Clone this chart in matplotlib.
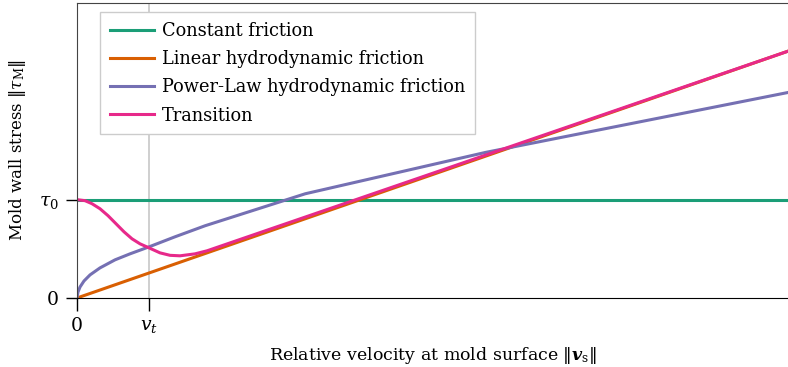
import matplotlib
matplotlib.use("Agg")
import matplotlib.pyplot as plt

plt.rcParams['font.family'] = ['DejaVu Serif']
plt.rcParams['mathtext.fontset'] = 'dejavuserif'

# velocity axis in units of v_t, stress in units of tau_0
v_max = 9.875
s_max = 3.0

constant_v = [0, 9.875]
constant_s = [1.0, 1.0]

linear_v = [0, 9.875]
linear_s = [0, 2.51]

power_v = [0, 0.014, 0.042, 0.097, 0.181, 0.319, 0.528, 0.736, 1.0, 1.36, 1.78, 3.17, 5.67, 9.875]
power_s = [0, 0.061, 0.112, 0.173, 0.235, 0.306, 0.388, 0.449, 0.52, 0.622, 0.735, 1.06, 1.48, 2.09]

transition_v = [0, 0.111, 0.208, 0.319, 0.431, 0.542, 0.653, 0.764, 0.875, 1.0, 1.153, 1.292,
                1.431, 1.639, 1.806, 9.875]
transition_s = [1.0, 0.99, 0.959, 0.908, 0.837, 0.755, 0.673, 0.602, 0.551, 0.51, 0.459, 0.434,
                0.429, 0.449, 0.48, 2.51]

x_ticks = [0, 1.0]
x_labels = ['0', r'$v_t$']
y_ticks = [0, 1.0]
y_labels = ['0', r'$\tau_0$']

colors = {"constant": "#1b9e77", "linear": "#d95f02", "power": "#7570b3", "transition": "#e7298a"}

fig = plt.figure(figsize=(7.88, 3.67), dpi=100)
ax = fig.add_axes([77 / 788, 69 / 367, 711 / 788, 295 / 367])

# marker for the transition velocity
ax.axvline(1.0, color="#cccccc", lw=1.3, zorder=1)

ax.plot(constant_v, constant_s, color=colors["constant"], lw=2.2, label="Constant friction")
ax.plot(linear_v, linear_s, color=colors["linear"], lw=2.2, label="Linear hydrodynamic friction")
ax.plot(power_v, power_s, color=colors["power"], lw=2.2, label="Power-Law hydrodynamic friction")
ax.plot(transition_v, transition_s, color=colors["transition"], lw=2.2, label="Transition")

ax.set_xlim(0, v_max)
ax.set_ylim(0, s_max)

ax.set_xticks(x_ticks)
ax.set_xticklabels(x_labels, fontsize=13.5)
ax.set_yticks(y_ticks)
ax.set_yticklabels(y_labels, fontsize=13.5)
ax.tick_params(axis='x', length=9, width=1, pad=5)
ax.tick_params(axis='y', length=8, width=1, pad=5)
ax.get_xticklines()[2].set_color("#555555")
ax.get_xticklines()[3].set_color("#555555")

for side in ['top', 'left']:
    ax.spines[side].set_color("#444444")
ax.spines['right'].set_visible(False)
ax.spines['bottom'].set_color("black")

ax.set_xlabel(r"Relative velocity at mold surface $\|\mathbfit{v}_\mathrm{s}\|$", fontsize=12.5, labelpad=7)
ax.set_ylabel(r"Mold wall stress $\|\tau_\mathrm{M}\|$", fontsize=12, labelpad=8)

leg = ax.legend(loc='upper left', bbox_to_anchor=(23 / 711, 1 - 9 / 295), borderaxespad=0,
                fontsize=12.8, fancybox=False, framealpha=1, edgecolor="#cccccc",
                handlelength=2.5, handletextpad=0.45, labelspacing=0.58, borderpad=0.55)
leg.get_frame().set_linewidth(1.0)

fig.savefig("out.png", dpi=100)
